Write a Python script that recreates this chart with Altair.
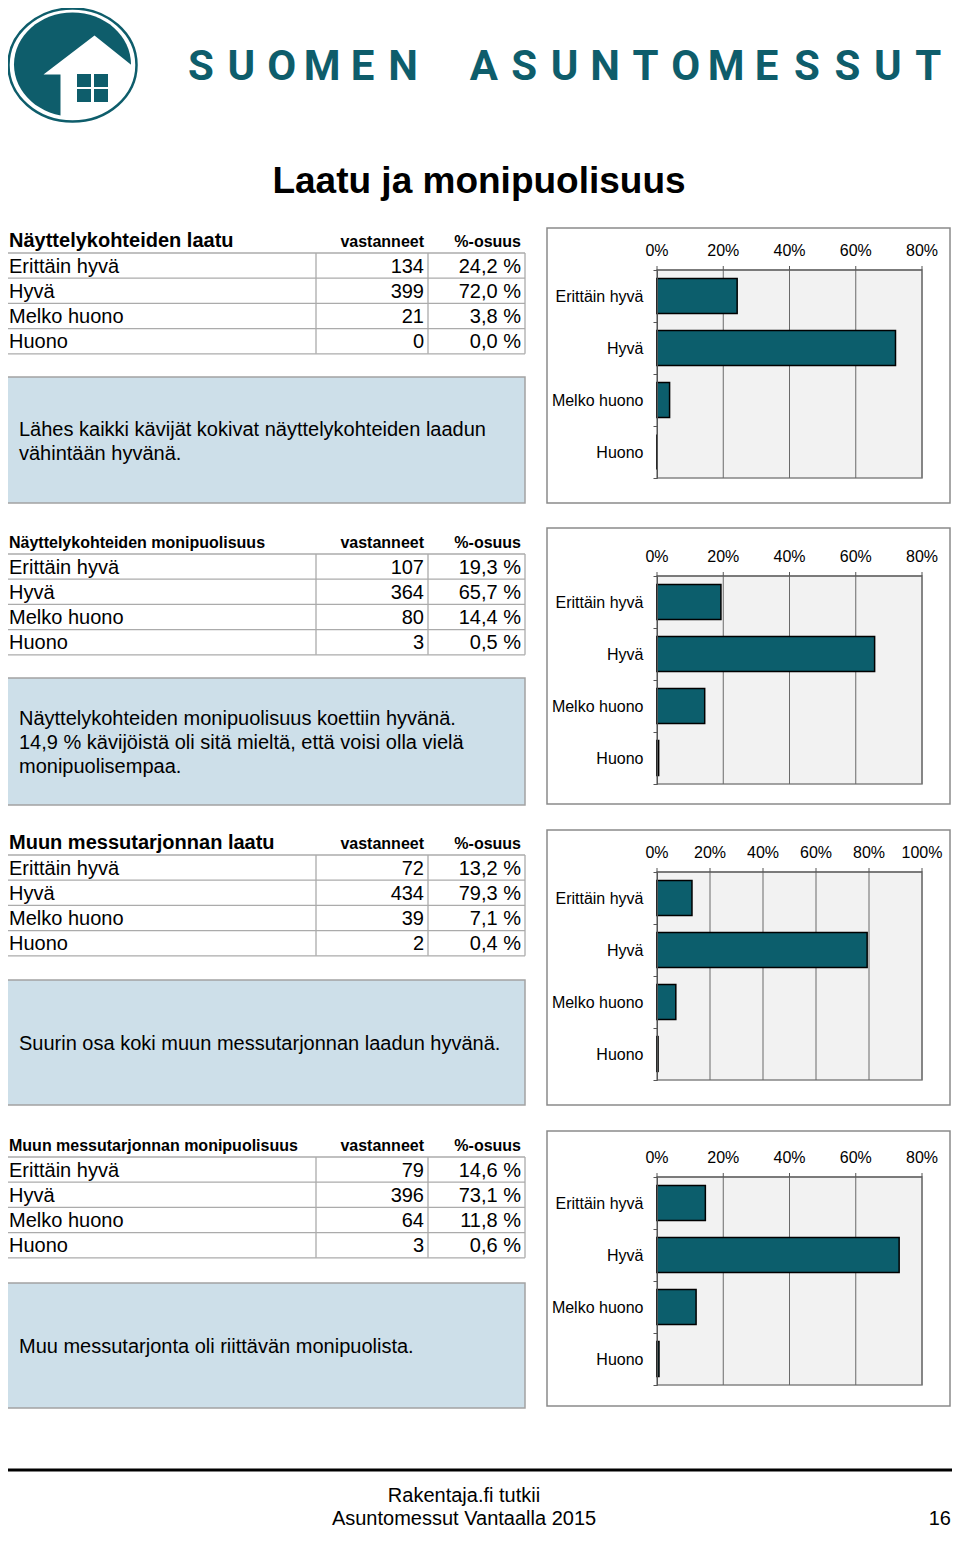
import altair as alt
import pandas as pd

# ---------------- data ----------------
CATEGORIES = ["Erittäin hyvä", "Hyvä", "Melko huono", "Huono"]
SECTION_TITLES = [
    "Näyttelykohteiden laatu",
    "Näyttelykohteiden monipuolisuus",
    "Muun messutarjonnan laatu",
    "Muun messutarjonnan monipuolisuus",
]
COUNTS_1 = [134, 399, 21, 0]
PCT_1 = [24.2, 72.0, 3.8, 0.0]
COUNTS_2 = [107, 364, 80, 3]
PCT_2 = [19.3, 65.7, 14.4, 0.5]
COUNTS_3 = [72, 434, 39, 2]
PCT_3 = [13.2, 79.3, 7.1, 0.4]
COUNTS_4 = [79, 396, 64, 3]
PCT_4 = [14.6, 73.1, 11.8, 0.6]
AXIS_MAX = [80, 80, 100, 80]
AXIS_TICKS = [
    [0, 20, 40, 60, 80],
    [0, 20, 40, 60, 80],
    [0, 20, 40, 60, 80, 100],
    [0, 20, 40, 60, 80],
]
COMMENTS = [
    ["Lähes kaikki kävijät kokivat näyttelykohteiden laadun", "vähintään hyvänä."],
    ["Näyttelykohteiden monipuolisuus koettiin hyvänä.",
     "14,9 % kävijöistä oli sitä mieltä, että voisi olla vielä",
     "monipuolisempaa."],
    ["Suurin osa koki muun messutarjonnan laadun hyvänä."],
    ["Muu messutarjonta oli riittävän monipuolista."],
]
COL_HEADERS = ["vastanneet", "%-osuus"]
TITLE = "Laatu ja monipuolisuus"
BRAND = "SUOMEN ASUNTOMESSUT"
FOOTER = ["Rakentaja.fi tutkii", "Asuntomessut Vantaalla 2015"]
PAGE_NO = "16"

COUNTS = [COUNTS_1, COUNTS_2, COUNTS_3, COUNTS_4]
PCTS = [PCT_1, PCT_2, PCT_3, PCT_4]

# ---------------- style / layout ----------------
FONT = "Liberation Sans"
TEAL = "#0e5d6b"
BAR = "#0c5e6c"
BOXFILL = "#cddfe9"
AXIS_GRAY = "#555555"
ROW_H = 25.2
X0, X1 = 657, 922  # plot area (page coordinates)

SECT = [
    dict(head=247, row=253, cbox=(377, 503), chart=(228, 503), plot=270, tsize=20, lines=[436, 460]),
    dict(head=548, row=554, cbox=(678, 805), chart=(528, 804), plot=576, tsize=16, lines=[725, 749, 773]),
    dict(head=849, row=855, cbox=(980, 1105), chart=(830, 1105), plot=872, tsize=20, lines=[1050]),
    dict(head=1151, row=1157, cbox=(1283, 1408), chart=(1131, 1406), plot=1177, tsize=16, lines=[1353]),
]

BASE = pd.DataFrame({"d": [0]})


def P(v):
    return v - 8


def txt(s, x, y, size=20, bold=False, align="left", color="black", font=FONT):
    kw = dict(text=s, fontSize=size, font=font, align=align, baseline="alphabetic", color=color)
    if bold:
        kw["fontWeight"] = "bold"
    return alt.Chart(BASE).mark_text(**kw).encode(x=alt.value(P(x)), y=alt.value(P(y)))


def rect(x1, y1, x2, y2, fill, stroke=None, sw=0):
    kw = dict(fill=fill, opacity=1)
    if stroke:
        kw.update(stroke=stroke, strokeWidth=sw)
    return alt.Chart(BASE).mark_rect(**kw).encode(
        x=alt.value(P(x1)), x2=alt.value(P(x2)), y=alt.value(P(y1)), y2=alt.value(P(y2)))


def line(x1, y1, x2, y2, color, w):
    return alt.Chart(BASE).mark_rule(color=color, strokeWidth=w).encode(
        x=alt.value(P(x1)), x2=alt.value(P(x2)), y=alt.value(P(y1)), y2=alt.value(P(y2)))


def shape(path, cx, cy, fill=None, stroke=None, sw=0):
    kw = dict(shape=path, size=4, opacity=1)
    if fill:
        kw.update(filled=True, fill=fill)
    else:
        kw.update(filled=False)
    if stroke:
        kw.update(stroke=stroke, strokeWidth=sw)
    else:
        kw.update(strokeWidth=0)
    return alt.Chart(BASE).mark_point(**kw).encode(x=alt.value(P(cx)), y=alt.value(P(cy)))


def ellipse_path(rx, ry):
    k = 0.5523
    return (f"M{-rx},0 C{-rx},{-k*ry:.2f} {-k*rx:.2f},{-ry} 0,{-ry} "
            f"C{k*rx:.2f},{-ry} {rx},{-k*ry:.2f} {rx},0 "
            f"C{rx},{k*ry:.2f} {k*rx:.2f},{ry} 0,{ry} "
            f"C{-k*rx:.2f},{ry} {-rx},{k*ry:.2f} {-rx},0 Z")


layers = []

# ---- logo ----
layers.append(shape(ellipse_path(58.5, 52), 72.5, 64.5, fill=TEAL))
layers.append(shape("M-28,12 L23,-27 L63,5 L63,62 L-11,62 L-11,12 Z", 71.5, 62.5, fill="white"))
for (a, b, c, d) in [(77, 74, 91, 87), (94, 74, 108, 87), (77, 89, 91, 102), (94, 89, 108, 102)]:
    layers.append(rect(a, b, c, d, TEAL))
layers.append(shape(ellipse_path(64, 56.5), 72.5, 65, stroke=TEAL, sw=2.5))

letters = [(ch, 201 + i * 40.4) for i, ch in enumerate(BRAND) if ch != " "]
brand_df = pd.DataFrame({"ch": [c for c, _ in letters], "x": [P(x) for _, x in letters]})
layers.append(
    alt.Chart(brand_df).mark_text(font="Roboto", fontWeight="bold", fontSize=42, color=TEAL,
                                  align="center", baseline="alphabetic")
    .encode(x=alt.X("x:Q", scale=None), y=alt.value(P(80)), text="ch:N")
)

# ---- title ----
layers.append(txt(TITLE, 479, 193, size=37, bold=True, align="center"))

# ---- sections ----
for k, s in enumerate(SECT):
    # table header
    layers.append(txt(SECTION_TITLES[k], 9, s["head"], size=s["tsize"], bold=True))
    layers.append(txt(COL_HEADERS[0], 424, s["head"], size=16, bold=True, align="right"))
    layers.append(txt(COL_HEADERS[1], 521, s["head"], size=16, bold=True, align="right"))
    # table grid
    r0 = s["row"]
    for i in range(5):
        yy = r0 + i * ROW_H
        layers.append(line(5, yy, 525, yy, "#ababab", 1.3))
    for xx in [5, 316, 428, 525]:
        layers.append(line(xx, r0, xx, r0 + 4 * ROW_H, "#ababab", 1.3))
    # comment box
    cy0, cy1 = s["cbox"]
    layers.append(rect(5, cy0, 525, cy1, BOXFILL, stroke="#a3a3a3", sw=1.5))
    for t, yy in zip(COMMENTS[k], s["lines"]):
        layers.append(txt(t, 19, yy, size=20))
    # chart frame
    fy0, fy1 = s["chart"]
    layers.append(rect(547, fy0, 950, fy1, "white", stroke="#8a8a8a", sw=1.5))

    # table values (through a band scale)
    tdf = pd.DataFrame({
        "cat": CATEGORIES,
        "n": [str(c) for c in COUNTS[k]],
        "p": [f"{v:.1f}".replace(".", ",") + " %" for v in PCTS[k]],
    })
    tys = alt.Scale(domain=CATEGORIES, range=[P(r0), P(r0 + 4 * ROW_H)], paddingInner=0, paddingOuter=0)
    tb = alt.Chart(tdf).encode(y=alt.Y("cat:N", scale=tys, sort=CATEGORIES, axis=None))
    tkw = dict(font=FONT, fontSize=20, baseline="middle", dy=1, color="black")
    table = alt.layer(
        tb.mark_text(align="left", **tkw).encode(x=alt.value(P(9)), text="cat:N"),
        tb.mark_text(align="right", **tkw).encode(x=alt.value(P(424)), text="n:N"),
        tb.mark_text(align="right", **tkw).encode(x=alt.value(P(521)), text="p:N"),
    )

    # bar chart
    ptop = P(s["plot"])
    pbot = ptop + 208
    xsc = alt.Scale(domain=[0, AXIS_MAX[k]], range=[P(X0), P(X1)])
    ysc = alt.Scale(domain=CATEGORIES, range=[ptop, pbot], paddingInner=0, paddingOuter=0)
    bg = alt.Chart(BASE).mark_rect(fill="#f2f2f2", stroke="#858585", strokeWidth=1.5, opacity=1).encode(
        x=alt.value(P(X0)), x2=alt.value(P(X1)), y=alt.value(ptop), y2=alt.value(pbot))
    tick_df = pd.DataFrame({"t": AXIS_TICKS[k], "lab": [f"{t}%" for t in AXIS_TICKS[k]]})
    grid = alt.Chart(tick_df).transform_filter("datum.t > 0").mark_rule(
        color="#6a6a6a", strokeWidth=1).encode(
        x=alt.X("t:Q", scale=xsc, axis=None), y=alt.value(ptop), y2=alt.value(pbot))
    topline = alt.Chart(BASE).mark_rule(color=AXIS_GRAY, strokeWidth=1.2).encode(
        x=alt.value(P(X0)), x2=alt.value(P(X1)), y=alt.value(ptop), y2=alt.value(ptop))
    xticks = alt.Chart(tick_df).mark_rule(color=AXIS_GRAY, strokeWidth=1).encode(
        x=alt.X("t:Q", scale=xsc, axis=None), y=alt.value(ptop - 4), y2=alt.value(ptop))
    xlabels = alt.Chart(tick_df).mark_text(
        font=FONT, fontSize=16, color="black", align="center", baseline="alphabetic").encode(
        x=alt.X("t:Q", scale=xsc, axis=None), y=alt.value(ptop - 14), text="lab:N")
    bdf = pd.DataFrame({"cat": CATEGORIES, "pct": PCTS[k]})
    bars = alt.Chart(bdf).mark_bar(fill=BAR, stroke="black", strokeWidth=1.5, opacity=1,
                                   height={"band": 0.67}).encode(
        x=alt.X("pct:Q", scale=xsc, axis=None),
        y=alt.Y("cat:N", scale=ysc, sort=CATEGORIES,
                axis=alt.Axis(orient="left", offset=-P(X0), tickBand="extent",
                              domainColor=AXIS_GRAY, tickColor=AXIS_GRAY, tickSize=4,
                              labelFont=FONT, labelFontSize=16, labelColor="black",
                              labelPadding=10, labelLimit=300, title=None, zindex=1)),
    )
    chart = alt.layer(bg, grid, topline, xticks, xlabels, bars)
    layers.append(alt.layer(table, chart).resolve_scale(x="independent", y="independent"))

# ---- footer ----
layers.append(line(5, 1470, 952, 1470, "black", 3))
layers.append(txt(FOOTER[0], 464, 1502, size=20, align="center"))
layers.append(txt(FOOTER[1], 464, 1525, size=20, align="center"))
layers.append(txt(PAGE_NO, 951, 1525, size=20, align="right"))

chart = (
    alt.layer(*layers)
    .resolve_scale(x="independent", y="independent")
    .properties(width=944, height=1524, padding=0, autosize="none")
    .configure_view(stroke="transparent")
)

chart.save("out.html", embed_options={"renderer": "svg", "actions": False})
